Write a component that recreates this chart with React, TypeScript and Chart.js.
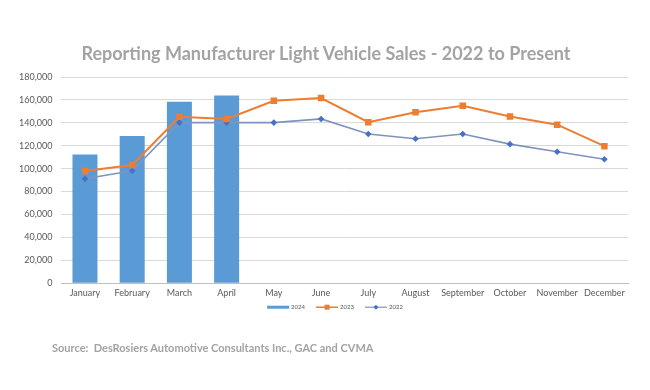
import React, { useEffect, useRef } from "react";
import { Chart, registerables } from "chart.js";

Chart.register(...registerables);

const months = ["January", "February", "March", "April", "May", "June", "July", "August", "September", "October", "November", "December"];
const sales2024 = [112300, 128400, 158400, 163900, null, null, null, null, null, null, null, null];
const sales2023 = [98000, 103200, 145200, 143400, 159200, 161600, 140500, 149300, 154800, 145500, 138400, 119600];
const sales2022 = [91200, 98200, 140200, 140200, 140200, 143400, 130200, 126100, 130200, 121400, 114700, 108200];
const yTicks = [0, 20000, 40000, 60000, 80000, 100000, 120000, 140000, 160000, 180000];

const FONT = "Lato, 'Open Sans', sans-serif";
const BAR_COLOR = "#5b9bd5";
const ORANGE = "#ed7d31";
const LINE22 = "#8497c0";
const MARK22 = "#4472c4";

const legendPlugin = {
  id: "excelLegend",
  afterDraw(chart: any) {
    const ctx = chart.ctx as CanvasRenderingContext2D;
    const ds = chart.data.datasets as any[];
    const y = chart.chartArea.bottom + 24;
    const lineW = 22;
    const gapText = 2;
    const gapItem = 11;
    const centerX = 335;
    ctx.save();
    ctx.font = `6px ${FONT}`;
    ctx.textBaseline = "middle";
    ctx.textAlign = "left";
    const widths = ds.map((d) => lineW + gapText + ctx.measureText(d.label).width);
    const total = widths.reduce((a, b) => a + b, 0) + gapItem * (ds.length - 1);
    let x = centerX - total / 2;
    ds.forEach((d, i) => {
      if (d.type === "bar") {
        ctx.fillStyle = d.backgroundColor;
        ctx.fillRect(x, y - 1.5, lineW, 3);
      } else {
        ctx.strokeStyle = d.borderColor;
        ctx.lineWidth = d.borderWidth * 0.75;
        ctx.beginPath();
        ctx.moveTo(x, y);
        ctx.lineTo(x + lineW, y);
        ctx.stroke();
        ctx.fillStyle = d.pointBackgroundColor;
        const cx = x + lineW / 2;
        if (d.pointStyle === "rect") {
          ctx.fillRect(cx - 2.5, y - 2.5, 5, 5);
        } else {
          ctx.beginPath();
          ctx.moveTo(cx, y - 2.5);
          ctx.lineTo(cx + 2.5, y);
          ctx.lineTo(cx, y + 2.5);
          ctx.lineTo(cx - 2.5, y);
          ctx.closePath();
          ctx.fill();
        }
      }
      ctx.fillStyle = "#595959";
      ctx.fillText(d.label, x + lineW + gapText, y);
      x += widths[i] + gapItem;
    });
    ctx.restore();
  },
};

export default function App() {
  const ref = useRef<HTMLCanvasElement | null>(null);

  useEffect(() => {
    if (!ref.current) return;
    const chart = new Chart(ref.current, {
      data: {
        labels: months,
        datasets: [
          {
            type: "bar",
            label: "2024",
            data: sales2024,
            backgroundColor: BAR_COLOR,
            barPercentage: 0.53,
            categoryPercentage: 1,
            order: 3,
          },
          {
            type: "line",
            label: "2023",
            data: sales2023,
            borderColor: ORANGE,
            backgroundColor: ORANGE,
            borderWidth: 2,
            pointStyle: "rect",
            pointRadius: 4.6,
            pointBorderWidth: 0,
            pointBackgroundColor: ORANGE,
            order: 1,
          },
          {
            type: "line",
            label: "2022",
            data: sales2022,
            borderColor: "#7f93bf",
            backgroundColor: MARK22,
            borderWidth: 1.6,
            pointStyle: "rectRot",
            pointRadius: 3.3,
            pointBorderWidth: 0,
            pointBackgroundColor: MARK22,
            order: 2,
          },
        ],
      } as any,
      options: {
        responsive: false,
        animation: false,
        devicePixelRatio: 1,
        layout: { padding: { left: 10, right: 22, top: 77, bottom: 88 } },
        plugins: {
          tooltip: { enabled: false },
          title: { display: false },
          legend: { display: false },
        },
        scales: {
          x: {
            grid: { display: false, drawTicks: false },
            border: { display: true, color: "#bfbfbf", width: 1 },
            ticks: { color: "#595959", font: { family: FONT, size: 9 }, maxRotation: 0, padding: 4 },
          },
          y: {
            min: 0,
            max: 180000,
            afterBuildTicks: (axis: any) => {
              axis.ticks = yTicks.map((v) => ({ value: v }));
            },
            grid: { color: "#d9d9d9", lineWidth: 1, drawTicks: false },
            border: { display: false },
            ticks: {
              color: "#595959",
              font: { family: FONT, size: 9 },
              padding: 9,
              callback: (v: any) => Number(v).toLocaleString("en-US"),
            },
          },
        },
      } as any,
      plugins: [legendPlugin],
    });
    return () => chart.destroy();
  }, []);

  return (
    <div style={{ position: "absolute", left: 0, top: 0, width: 650, height: 390, background: "#fff" }}>
      <canvas ref={ref} width={650} height={390} />
      <div
        style={{
          position: "absolute",
          left: 0,
          top: 42,
          width: 652,
          textAlign: "center",
          lineHeight: "22px",
          fontFamily: FONT,
          fontSize: 18,
          fontWeight: "bold",
          color: "#a3a3a3",
          whiteSpace: "nowrap",
        }}
      >
        Reporting Manufacturer Light Vehicle Sales - 2022 to Present
      </div>
      <div
        style={{
          position: "absolute",
          left: 52,
          top: 341,
          fontFamily: FONT,
          fontSize: 11,
          fontWeight: "bold",
          color: "#a3a3a3",
          whiteSpace: "nowrap",
        }}
      >
        Source:&nbsp; DesRosiers Automotive Consultants Inc., GAC and CVMA
      </div>
    </div>
  );
}
